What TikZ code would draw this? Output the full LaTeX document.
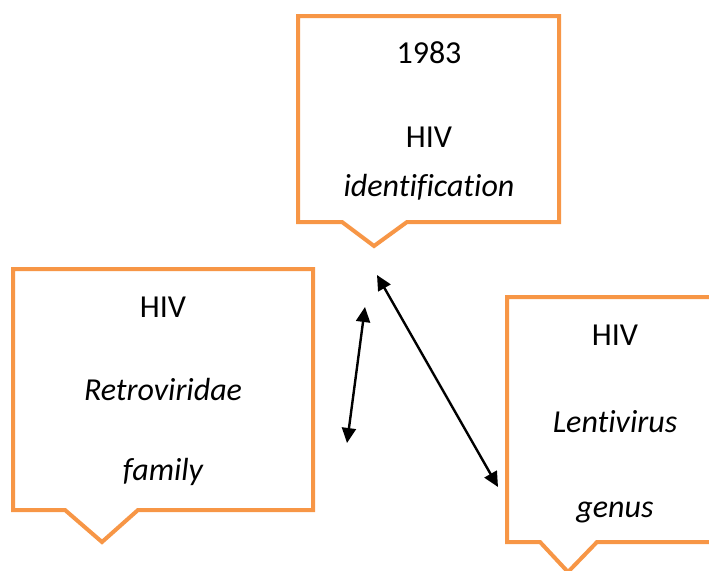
\documentclass[tikz,border=0pt]{standalone}
\usepackage{fontspec}
\setmainfont[Ligatures=NoCommon]{Carlito}
\usetikzlibrary{arrows.meta}
\definecolor{boxorange}{HTML}{F79646}
\begin{document}
\begin{tikzpicture}[x=1pt,y=-1pt,
  callout/.style={draw=boxorange, line width=4pt, line join=miter, fill=white},
  lbl/.style={font=\fontsize{32}{38}\selectfont, anchor=base, inner sep=0pt},
  dbl/.style={{Triangle[length=15pt,width=14pt]}-{Triangle[length=15pt,width=14pt]}, line width=2.4pt}]
\useasboundingbox (0,0) rectangle (709,570);
\clip (0,0) rectangle (709,570);
% top callout
\draw[callout] (298,16) -- (559,16) -- (559,222) -- (407,222) -- (374,246) -- (342,222) -- (298,222) -- cycle;
\node[lbl] (t1) at (429,63) {1983};
\node[lbl] (t2) at (429,147) {HIV};
\node[lbl] (t3) at (429,196) {\itshape identification};
% left callout
\draw[callout] (13,269) -- (313,269) -- (313,510) -- (138,510) -- (102,542) -- (65,510) -- (13,510) -- cycle;
\node[lbl] (l1) at (163,317) {HIV};
\node[lbl] (l2) at (163,400) {\itshape Retroviridae};
\node[lbl] (l3) at (163,480) {\itshape family};
% right callout
\draw[callout] (507,297) -- (730,297) -- (730,542) -- (597,542) -- (568,572) -- (540,542) -- (507,542) -- cycle;
\node[lbl] (r1) at (615,345) {HIV};
\node[lbl] (r2) at (615,432) {\itshape Lentivirus};
\node[lbl] (r3) at (615,517) {\itshape genus};
% arrows
\coordinate (a1s) at (365,307);
\coordinate (a1e) at (347,443);
\coordinate (a2s) at (377,275);
\coordinate (a2e) at (498,487);
\draw[dbl] (a1s) -- (a1e);
\draw[dbl] (a2s) -- (a2e);
\end{tikzpicture}
\end{document}
